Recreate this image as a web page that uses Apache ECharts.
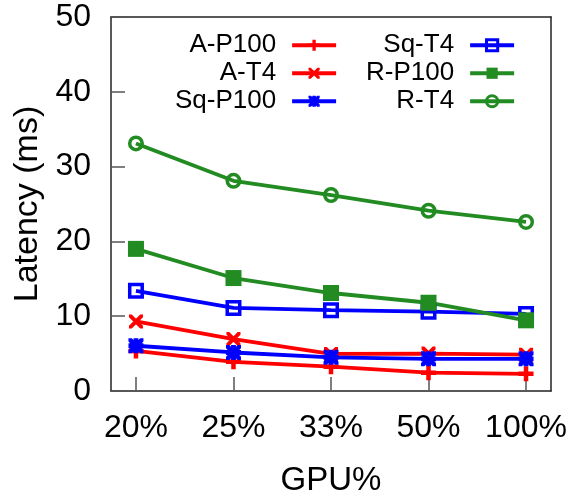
<!DOCTYPE html>
<html>
<head>
<meta charset="utf-8">
<script src="https://cdn.jsdelivr.net/npm/echarts@6/dist/echarts.min.js"></script>
<style>
  html, body { margin: 0; padding: 0; background: #fff; }
  #chart { width: 581px; height: 497px; }
</style>
</head>
<body>
<div id="chart"></div>
<script>
// GPU share categories along the x axis
const gpuShares = ['20%', '25%', '33%', '50%', '100%'];
const yTicks = [0, 10, 20, 30, 40, 50];

// Latency (ms) per configuration
const aP100  = [5.35, 3.9, 3.25, 2.45, 2.3];
const aT4    = [9.3, 6.95, 4.95, 5.0, 4.85];
const sqP100 = [6.05, 5.15, 4.5, 4.3, 4.3];
const sqT4   = [13.4, 11.1, 10.8, 10.6, 10.3];
const rP100  = [19.0, 15.1, 13.1, 11.8, 9.45];
const rT4    = [33.1, 28.1, 26.2, 24.1, 22.6];

const seriesNames = ['A-P100', 'A-T4', 'Sq-P100', 'Sq-T4', 'R-P100', 'R-T4'];
const openMarker = ['Sq-T4', 'R-T4'];

const RED = '#ff0000', BLUE = '#0000ff', GREEN = '#228b22';
const FONT = '"Liberation Sans", Arial, Helvetica, sans-serif';
const X_MIN = -0.256, X_MAX = 4.256;
const LINE_W = 3.8, RING_W = 3.5;

// frame edge style (fresh object per axis)
const frameLine = () => ({ show: true, onZero: false, lineStyle: { color: '#222', width: 1.5 } });
const innerTick = () => ({ show: true, inside: true, length: 14, lineStyle: { color: '#555', width: 1.5 } });

// marker shapes
const PLUS = 'path://M3.5,0H6.5V3.5H10V6.5H6.5V10H3.5V6.5H0V3.5H3.5Z';
const CROSS = 'path://M0,0L2,0L10,8L10,10L8,10L0,2Z' +
              'M10,0L10,2L2,10L0,10L0,8L8,0Z';
const STAR = 'path://M3.4,0H6.6V3.4H10V6.6H6.6V10H3.4V6.6H0V3.4H3.4Z' +
             'M0,0L2.2,0L10,7.8L10,10L7.8,10L0,2.2Z' +
             'M10,0L10,2.2L2.2,10L0,10L0,7.8L7.8,0Z';

const idx = gpuShares.map((_, i) => i);
const toPoints = vals => idx.map(i => [i, vals[i]]);

function lineSeries(name, vals, color, symbol, size) {
  const open = openMarker.includes(name);
  return {
    name: name,
    type: 'line',
    data: toPoints(vals),
    symbol: symbol,
    symbolSize: size,
    showAllSymbol: true,
    lineStyle: { color: color, width: LINE_W },
    itemStyle: open
      ? { color: 'rgba(0,0,0,0)', borderColor: color, borderWidth: RING_W }
      : { color: color, borderWidth: 0 },
    emphasis: { disabled: true },
    animation: false
  };
}

function legendColumn(names, right) {
  return {
    data: names.map(n => openMarker.includes(n)
      ? { name: n, itemStyle: { borderWidth: 3 } }
      : { name: n }),
    right: right,
    top: 32,
    orient: 'vertical',
    align: 'right',
    padding: 0,
    itemGap: 1.5,
    itemWidth: 44,
    itemHeight: 14,
    selectedMode: false,
    lineStyle: { width: LINE_W },
    textStyle: {
      fontFamily: FONT, fontSize: 26, color: '#000',
      width: 112, lineHeight: 26.5, padding: [0, 11, 0, 0]
    }
  };
}

const chart = echarts.init(document.getElementById('chart'));
chart.setOption({
  backgroundColor: '#fff',
  animation: false,
  grid: { left: 111, right: 30, top: 17, bottom: 106, outerBoundsMode: 'none' },
  legend: [
    legendColumn(seriesNames.slice(0, 3), 243),
    legendColumn(seriesNames.slice(3), 65)
  ],
  xAxis: [{
    type: 'value',
    position: 'bottom',
    min: X_MIN,
    max: X_MAX,
    name: 'GPU%',
    nameLocation: 'middle',
    nameGap: 73,
    nameTextStyle: { fontFamily: FONT, fontSize: 33, color: '#000' },
    axisLine: frameLine(),
    axisTick: Object.assign(innerTick(), { customValues: idx }),
    axisLabel: {
      customValues: idx,
      formatter: v => gpuShares[Math.round(v)],
      fontFamily: FONT, fontSize: 32, color: '#000', margin: 21
    },
    splitLine: { show: false }
  }, {
    type: 'value',
    position: 'top',
    min: X_MIN,
    max: X_MAX,
    axisLine: frameLine(),
    axisTick: { show: false },
    axisLabel: { show: false },
    splitLine: { show: false }
  }],
  yAxis: [{
    type: 'value',
    position: 'left',
    min: yTicks[0],
    max: yTicks[yTicks.length - 1],
    interval: 10,
    name: 'Latency (ms)',
    nameLocation: 'middle',
    nameGap: 60,
    nameTextStyle: { fontFamily: FONT, fontSize: 34, color: '#000' },
    axisLine: frameLine(),
    axisTick: innerTick(),
    axisLabel: { fontFamily: FONT, fontSize: 32, color: '#000', margin: 20 },
    splitLine: { show: false }
  }, {
    type: 'value',
    position: 'right',
    min: yTicks[0],
    max: yTicks[yTicks.length - 1],
    interval: 10,
    axisLine: frameLine(),
    axisTick: { show: false },
    axisLabel: { show: false },
    splitLine: { show: false }
  }],
  series: [
    lineSeries('A-P100', aP100, RED, PLUS, 15),
    lineSeries('A-T4', aT4, RED, CROSS, 14),
    lineSeries('Sq-P100', sqP100, BLUE, STAR, 15),
    lineSeries('Sq-T4', sqT4, BLUE, 'rect', 12.5),
    lineSeries('R-P100', rP100, GREEN, 'rect', 16),
    lineSeries('R-T4', rT4, GREEN, 'circle', 12.5)
  ]
});
</script>
</body>
</html>
